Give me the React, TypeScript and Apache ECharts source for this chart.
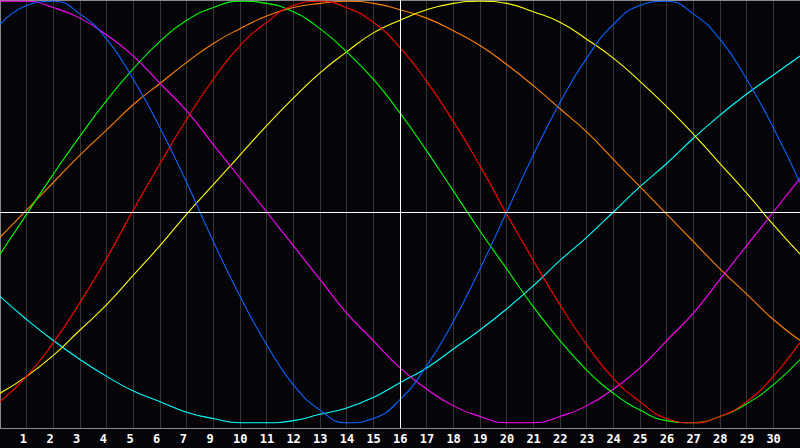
import React, { useEffect, useRef } from 'react';
import * as echarts from 'echarts';

const days = [0, 1, 2, 3, 4, 5, 6, 7, 8, 9, 10, 11, 12, 13, 14, 15, 16, 17, 18, 19, 20, 21, 22, 23, 24, 25, 26, 27, 28, 29, 30];
const tickPositions = [1, 2, 3, 4, 5, 6, 7, 8, 9, 10, 11, 12, 13, 14, 15, 16, 17, 18, 19, 20, 21, 22, 23, 24, 25, 26, 27, 28, 29];
const tickLabels = ['1', '2', '3', '4', '5', '6', '7', '9', '10', '11', '12', '13', '14', '15', '16', '17', '18', '19', '20', '21', '22', '23', '24', '25', '26', '27', '28', '29', '30'];
const todayDay = 15;

const physical = [89, 98, 100, 94, 82, 63, 40, 14, -14, -40, -63, -82, -94, -100, -98, -89, -73, -52, -27, 0, 27, 52, 73, 89, 98, 100, 94, 82, 63, 40, 14];
const emotional = [-90, -78, -62, -43, -22, 1, 23, 44, 63, 79, 90, 98, 100, 97, 90, 78, 62, 43, 22, -1, -23, -44, -63, -79, -90, -98, -100, -97, -90, -78, -62];
const intellectual = [-20, -1, 18, 36, 53, 68, 81, 91, 97, 100, 99, 95, 87, 76, 63, 47, 29, 10, -9, -27, -45, -61, -75, -86, -94, -99, -100, -97, -91, -82, -70];
const intuitive = [100, 100, 97, 92, 84, 74, 61, 48, 32, 16, 0, -16, -32, -48, -61, -74, -84, -92, -97, -100, -100, -97, -92, -84, -74, -61, -48, -32, -16, 0, 16];
const aesthetic = [-86, -78, -68, -56, -44, -30, -16, -1, 13, 27, 41, 54, 66, 76, 85, 91, 96, 99, 100, 99, 95, 90, 82, 73, 62, 50, 37, 23, 9, -6, -20];
const awareness = [-12, 1, 14, 27, 39, 51, 61, 71, 80, 87, 93, 97, 99, 100, 99, 96, 92, 86, 79, 70, 60, 49, 38, 25, 12, -1, -14, -27, -39, -51, -61];
const spiritual = [-40, -51, -61, -70, -78, -85, -90, -95, -98, -100, -100, -99, -96, -93, -88, -81, -74, -65, -56, -46, -35, -23, -12, 0, 12, 23, 35, 46, 56, 65, 74];

const curves = [
  { name: 'Spiritual', values: spiritual, color: '#00ffff' },
  { name: 'Awareness', values: awareness, color: '#ff8000' },
  { name: 'Aesthetic', values: aesthetic, color: '#ffff00' },
  { name: 'Intuitive', values: intuitive, color: '#ff00ff' },
  { name: 'Intellectual', values: intellectual, color: '#00ff00' },
  { name: 'Emotional', values: emotional, color: '#ff0000' },
  { name: 'Physical', values: physical, color: '#0a64ff' },
];

export default function App() {
  const ref = useRef<HTMLDivElement>(null);
  useEffect(() => {
    if (!ref.current) return;
    const chart = echarts.init(ref.current, null, { renderer: 'svg' });
    const series: any[] = curves.map((c) => ({
      name: c.name,
      type: 'line',
      xAxisIndex: 0,
      yAxisIndex: 0,
      data: days.map((d, i) => [d, c.values[i]]),
      smooth: true,
      showSymbol: false,
      symbol: 'none',
      lineStyle: { color: c.color, width: 1.1 },
      itemStyle: { color: c.color },
      z: 3,
    }));
    series.push({
      name: 'markers',
      type: 'line',
      xAxisIndex: 0,
      yAxisIndex: 0,
      data: [],
      z: 2,
      markLine: {
        silent: true,
        symbol: ['none', 'none'],
        label: { show: false },
        lineStyle: { color: '#ffffff', width: 1, type: 'solid' },
        data: [{ xAxis: todayDay }, { yAxis: 0 }],
      },
    });
    chart.setOption({
      animation: false,
      backgroundColor: '#050509',
      grid: [
        { left: 0, top: 0, width: 800, height: 428, containLabel: false },
      ],
      xAxis: [
        {
          type: 'value',
          gridIndex: 0,
          min: 0,
          max: 30,
          interval: 1,
          axisLine: { show: true, onZero: false, lineStyle: { color: '#8a8a8a', width: 1 } },
          axisTick: { show: false },
          axisLabel: { show: false },
          splitLine: { show: true, lineStyle: { color: '#363636', width: 1 } },
        },
        {
          type: 'value',
          gridIndex: 0,
          position: 'bottom',
          min: 0.26,
          max: 30.26,
          axisLine: { show: false, onZero: false },
          axisTick: { show: false },
          splitLine: { show: false },
          axisLabel: {
            show: true,
            customValues: tickPositions,
            align: 'left',
            margin: 5,
            color: '#ffffff',
            fontWeight: 'bold',
            fontSize: 12,
            fontFamily: 'DejaVu Sans Mono',
            formatter: (v: number) => {
              const i = tickPositions.indexOf(Math.round(v));
              return i >= 0 ? tickLabels[i] : '';
            },
          },
        },
        {
          type: 'value',
          gridIndex: 0,
          position: 'top',
          min: 0,
          max: 30,
          axisLine: { show: true, onZero: false, lineStyle: { color: '#8a8a8a', width: 1 } },
          axisTick: { show: false },
          axisLabel: { show: false },
          splitLine: { show: false },
        },
      ],
      yAxis: [
        {
          type: 'value',
          gridIndex: 0,
          min: -102.5,
          max: 100.6,
          axisLine: { show: true, onZero: false, lineStyle: { color: '#8a8a8a', width: 1 } },
          axisTick: { show: false },
          axisLabel: { show: false },
          splitLine: { show: false },
        },
      ],
      series,
    });
    return () => chart.dispose();
  }, []);
  return (
    <div
      ref={ref}
      style={{ position: 'fixed', left: 0, top: 0, width: 800, height: 448, background: '#050509' }}
    />
  );
}
